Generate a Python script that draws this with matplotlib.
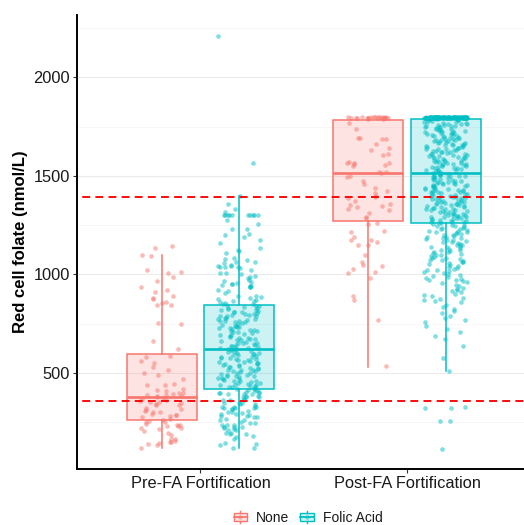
import matplotlib
matplotlib.use("Agg")
import matplotlib.pyplot as plt
from matplotlib.patches import Rectangle, Patch
from matplotlib.lines import Line2D
from matplotlib.legend_handler import HandlerBase
from matplotlib.ticker import MultipleLocator

plt.rcParams['font.family'] = ['Liberation Sans', 'DejaVu Sans']

# ---------------- data ----------------
periods = ['Pre-FA Fortification', 'Post-FA Fortification']
groups = ['None', 'Folic Acid']
group_colors = ['#F8766D', '#00BFC4']
threshold_lines = [360, 1395]
y_ticks = [500, 1000, 1500, 2000]

# box statistics (order: pre-none, pre-folic, post-none, post-folic)
box_q1 = [263, 418, 1269, 1261]
box_med = [380, 620, 1517, 1513]
box_q3 = [596, 845, 1786, 1791]
whisk_lo = [121, 121, 530, 512]
whisk_hi = [1097, 1398, 1797, 1798]

pre_none = [1142, 1132, 1098, 1093, 1025, 1013, 1008, 986, 969, 935, 923, 911, 889, 881, 877,
            860, 855, 847, 845, 754, 749, 661, 623, 589, 579, 562, 552, 530, 517, 500, 488,
            471, 446, 441, 438, 417, 413, 407, 400, 397, 395, 391, 389, 386, 383, 379, 374,
            371, 364, 358, 355, 352, 348, 345, 340, 337, 323, 320, 313, 307, 304, 301, 290,
            288, 285, 282, 275, 268, 262, 258, 254, 251, 242, 239, 236, 233, 230, 221, 219,
            217, 207, 195, 186, 167, 164, 155, 152, 149, 145, 142, 136, 119]

pre_folic = [2210, 1564, 1400, 1355, 1330, 1316, 1304, 1304, 1304, 1304, 1304, 1304, 1304,
             1304, 1304, 1304, 1276, 1254, 1232, 1229, 1203, 1200, 1191, 1174, 1160, 1135,
             1126, 1118, 1110, 1084, 1079, 1076, 1064, 1061, 1059, 1050, 1044, 1042, 1040,
             1038, 1036, 1033, 1025, 1010, 1006, 1000, 993, 989, 983, 974, 966, 962, 959,
             952, 950, 947, 942, 940, 938, 936, 923, 915, 906, 891, 889, 887, 881, 878, 872,
             868, 865, 860, 856, 852, 849,
             843, 839, 838, 835, 831, 828, 826, 822, 819, 817, 812, 811, 808, 806, 801, 799,
             796, 793, 790, 788, 787, 781, 778, 776, 774, 771, 766, 765, 762, 759, 757, 752,
             748, 746, 741, 739, 735, 733, 731, 729, 722, 720, 716, 713, 711, 708, 706, 703,
             697, 695, 691, 687, 684, 680, 677, 674, 671, 668, 666, 664, 660, 655, 653, 650,
             646, 642, 640, 638, 636, 633, 630, 628, 625, 623,
             620, 617, 615, 611, 608, 606, 603, 602, 598, 596, 593, 590, 585, 583, 580, 577,
             574, 571, 570, 567, 565, 562, 558, 556, 552, 549, 546, 544, 543, 540, 536, 533,
             531, 527, 524, 521, 518, 517, 514, 511, 508, 505, 502, 498, 496, 492, 489, 487,
             486, 483, 480, 477, 473, 471, 468, 464, 461, 459, 458, 455, 452, 448, 446, 442,
             439, 438, 436, 433, 430, 427, 424, 421, 419,
             416, 412, 410, 406, 403, 400, 399, 397, 396, 394, 392, 384, 382, 380, 379, 377,
             367, 365, 363, 361, 349, 348, 346, 345, 343, 332, 330, 328, 327, 324, 323, 321,
             320, 318, 307, 305, 303, 295, 293, 291, 289, 282, 280, 278, 276, 265, 262, 260,
             251, 249, 247, 239, 237, 235, 228, 226, 224, 222, 214, 212, 210, 197, 195, 193,
             191, 179, 176, 164, 146, 142, 136, 121, 118]

post_none = [1800, 1800, 1799, 1799, 1798, 1798, 1798, 1797, 1797, 1796, 1796, 1796, 1795,
             1795, 1795, 1794, 1794, 1793, 1793, 1792, 1791, 1790,
             1767, 1736, 1694, 1692, 1689, 1687, 1663, 1643, 1630, 1613, 1604, 1569, 1567,
             1566, 1564, 1558, 1556, 1550, 1518, 1516, 1518, 1500, 1494, 1474, 1460, 1440,
             1423, 1414, 1400, 1395, 1389, 1372, 1360, 1350, 1347, 1343, 1330, 1325, 1310,
             1290, 1287, 1262, 1254, 1220, 1215, 1191, 1177, 1174, 1164, 1152, 1150, 1101,
             1062, 1050, 1042, 1028, 1011, 1009, 982, 889, 872, 771, 534]

post_folic = [1800, 1799, 1797, 1796, 1795, 1798, 1796, 1794, 1795, 1797, 1799, 1796, 1793,
              1795, 1798, 1800, 1794, 1796, 1797, 1795, 1792, 1796, 1799, 1795, 1794, 1797,
              1798, 1796, 1795, 1793, 1800, 1797, 1796, 1794, 1795, 1799, 1798, 1796, 1795,
              1797, 1794, 1796, 1799, 1793, 1795, 1798, 1796, 1797, 1795, 1800, 1794, 1796,
              1798, 1795, 1797, 1792, 1796, 1799, 1795, 1797, 1794, 1798, 1796, 1795, 1800,
              1797, 1793, 1796, 1795, 1798, 1794, 1797, 1799, 1796, 1795, 1797, 1792, 1798,
              1796, 1795, 1800, 1794, 1797, 1796, 1799, 1795, 1793, 1798, 1796, 1795, 1797,
              1794, 1799, 1796, 1795, 1798, 1797, 1791, 1796, 1795, 1800, 1794, 1797, 1796,
              1798, 1795, 1793, 1797, 1796, 1799, 1795, 1794, 1798, 1796, 1797, 1795, 1792,
              1796, 1799, 1795,
              1789, 1787, 1786, 1782, 1781, 1780, 1775, 1774, 1772, 1770, 1768, 1765, 1764,
              1761, 1760, 1756, 1755, 1754, 1751, 1748, 1747, 1746, 1741, 1740, 1738, 1734,
              1733, 1732, 1728, 1727, 1723, 1723, 1719, 1717, 1716, 1712, 1711, 1709, 1706,
              1704, 1701, 1700, 1698, 1694, 1694, 1690, 1688, 1686, 1684, 1682, 1680, 1676,
              1675, 1673, 1670, 1668, 1666, 1664, 1661, 1659, 1657, 1655, 1652, 1650, 1648,
              1645, 1644, 1641, 1638, 1637, 1634, 1632, 1630, 1627, 1626, 1623, 1620, 1619,
              1617, 1613, 1612, 1610, 1607, 1605, 1603, 1601, 1598, 1596, 1594, 1591, 1590,
              1587, 1584, 1583, 1581, 1577, 1576, 1574, 1571, 1569, 1567, 1565, 1562, 1560,
              1558, 1555, 1554, 1551, 1549, 1546, 1545, 1542, 1539, 1538, 1536, 1532, 1531,
              1529, 1525, 1523, 1521,
              1517, 1514, 1512, 1510, 1507, 1506, 1503, 1500, 1499, 1497, 1493, 1492, 1489,
              1488, 1484, 1483, 1481, 1478, 1476, 1474, 1471, 1470, 1466, 1465, 1462, 1461,
              1457, 1456, 1454, 1451, 1449, 1447, 1444, 1443, 1439, 1438, 1436, 1433, 1431,
              1428, 1427, 1424, 1422, 1420, 1417, 1416, 1412, 1411, 1409, 1406, 1404, 1402,
              1399, 1398, 1395, 1392, 1391, 1388, 1386, 1384, 1381, 1380, 1376, 1375, 1373,
              1370, 1368, 1366, 1363, 1362, 1358, 1357, 1355, 1352, 1350, 1348, 1345, 1344,
              1340, 1339, 1337, 1334, 1332, 1330, 1327, 1326, 1322, 1321, 1319, 1316, 1314,
              1312, 1309, 1308, 1304, 1303, 1301, 1298, 1296, 1294, 1291, 1290, 1286, 1285,
              1283, 1280, 1278, 1276, 1273, 1272, 1268, 1267, 1265, 1263,
              1259, 1256, 1253, 1250, 1248, 1244, 1241, 1238, 1236, 1233, 1229, 1227, 1223,
              1220, 1218, 1214, 1211, 1209, 1206, 1202, 1199, 1195, 1192, 1190, 1187, 1183,
              1180, 1177, 1173, 1170, 1166, 1163, 1160, 1156, 1152, 1148, 1145, 1141, 1138,
              1134, 1130, 1126, 1123, 1119, 1115, 1112, 1108, 1105, 1101, 1097, 1093, 1090,
              1086, 1083, 1079, 1075, 1071, 1068, 1064, 1061, 1057, 1053, 1048, 1043, 1039,
              1034, 1030, 1025, 1021, 1016, 1011, 1007, 1002, 997, 993, 988, 984, 979, 974,
              970, 965, 961, 956, 947, 940, 934, 928, 921, 915, 909, 902, 896, 890, 883, 877,
              871, 864, 858, 846, 836, 825, 814, 803, 792, 781, 770, 759, 741, 724, 707, 690,
              672, 639, 576, 513, 330, 322, 321, 259, 258, 113]

series = [[pre_none, pre_folic], [post_none, post_folic]]

# ---------------- layout ----------------
W, H = 524, 525
fig = plt.figure(figsize=(W / 100, H / 100), dpi=100)
ax_left, ax_right, ax_top, ax_bottom = 76.5, 531.0, 15.0, 469.3
ax = fig.add_axes([ax_left / W, 1 - ax_bottom / H, (ax_right - ax_left) / W,
                   (ax_bottom - ax_top) / H])
ax.set_xlim(0.4, 2.6)
ax.set_ylim(12, 2316)

dodge = 0.1875
box_w = 0.3375
jitter_w = 0.105


def jitter_frac(i, salt):
    # deterministic hash-based horizontal jitter (position only)
    h = ((i + 1) * 2654435761 + salt * 40503) % 4294967296
    h ^= (h >> 13)
    h = (h * 1274126177) % 4294967296
    return h / 4294967296.0


positions = []
for p, per_series in enumerate(series):
    for g, vals in enumerate(per_series):
        xc = p + 1 + (2 * g - 1) * dodge
        positions.append(xc)
        xs = [xc + jitter_w * (2 * jitter_frac(i, 7 + 3 * p + g) - 1)
              for i in range(len(vals))]
        ax.scatter(xs, vals, s=11, color=group_colors[g], alpha=0.5, linewidths=0,
                   zorder=2)

stats = []
for i in range(4):
    stats.append(dict(q1=box_q1[i], med=box_med[i], q3=box_q3[i],
                      whislo=whisk_lo[i], whishi=whisk_hi[i], fliers=[]))

bp = ax.bxp(stats, positions=positions, widths=box_w, patch_artist=True,
            showfliers=False, showcaps=False, manage_ticks=False, zorder=3)
for i in range(4):
    col = group_colors[i % 2]
    box = bp['boxes'][i]
    box.set_facecolor(matplotlib.colors.to_rgba(col, 0.2))
    box.set_edgecolor(col)
    box.set_linewidth(1.1)
    bp['medians'][i].set_color(col)
    bp['medians'][i].set_linewidth(1.9)
    for wl in bp['whiskers'][2 * i:2 * i + 2]:
        wl.set_color(col)
        wl.set_linewidth(1.1)

for yv in threshold_lines:
    ax.axhline(yv, color='#FF0000', lw=1.35, ls=(4.2, (4.2, 2.8)), zorder=6)

# axes styling
ax.set_xticks([1, 2])
ax.set_xticklabels(periods)
ax.set_yticks(y_ticks)
ax.yaxis.set_minor_locator(MultipleLocator(250))
ax.set_axisbelow(True)
ax.grid(axis='y', which='major', color='#EBEBEB', lw=0.8)
ax.grid(axis='y', which='minor', color='#F4F4F4', lw=0.5)
ax.tick_params(axis='y', which='minor', length=0)
ax.tick_params(axis='both', which='major', length=2.9, width=0.8, color='#333333',
               labelsize=11.8, labelcolor='#1A1A1A', pad=1.8)
for s in ['top', 'right']:
    ax.spines[s].set_visible(False)
for s in ['left', 'bottom']:
    ax.spines[s].set_linewidth(1.4)
    ax.spines[s].set_color('black')

fig.text(21 / W, 1 - 242 / H, 'Red cell folate (nmol/L)', rotation=90, ha='center',
         va='center', fontsize=12, fontweight='bold', color='black')


class BoxKeyHandler(HandlerBase):
    def create_artists(self, legend, orig_handle, xdescent, ydescent, width, height,
                       fontsize, trans):
        col = orig_handle.get_edgecolor()
        x0, y0 = -xdescent, -ydescent
        cx = x0 + width / 2
        arts = [
            Line2D([cx, cx], [y0 + 0.1 * height, y0 + 0.25 * height], color=col, lw=1.0),
            Line2D([cx, cx], [y0 + 0.75 * height, y0 + 0.9 * height], color=col, lw=1.0),
            Rectangle((x0 + 0.125 * width, y0 + 0.25 * height), 0.75 * width, 0.5 * height,
                      facecolor=matplotlib.colors.to_rgba(col, 0.2), edgecolor=col, lw=1.0),
            Line2D([x0 + 0.125 * width, x0 + 0.875 * width],
                   [y0 + 0.5 * height, y0 + 0.5 * height], color=col, lw=1.3),
            Line2D([cx], [y0 + 0.5 * height], marker='o', ms=3.2, color=col, alpha=0.5,
                   markeredgewidth=0),
        ]
        for a in arts:
            a.set_transform(trans)
        return arts


handles = [Patch(facecolor=c, edgecolor=c) for c in group_colors]
fig.legend(handles, groups, loc='center', bbox_to_anchor=(307 / W, 1 - 517 / H),
           ncol=2, frameon=False, fontsize=10, handlelength=1.3, handleheight=1.3,
           handletextpad=0.5, columnspacing=0.6, labelcolor='#1A1A1A',
           handler_map={Patch: BoxKeyHandler()})

fig.savefig('out.png', dpi=100)
